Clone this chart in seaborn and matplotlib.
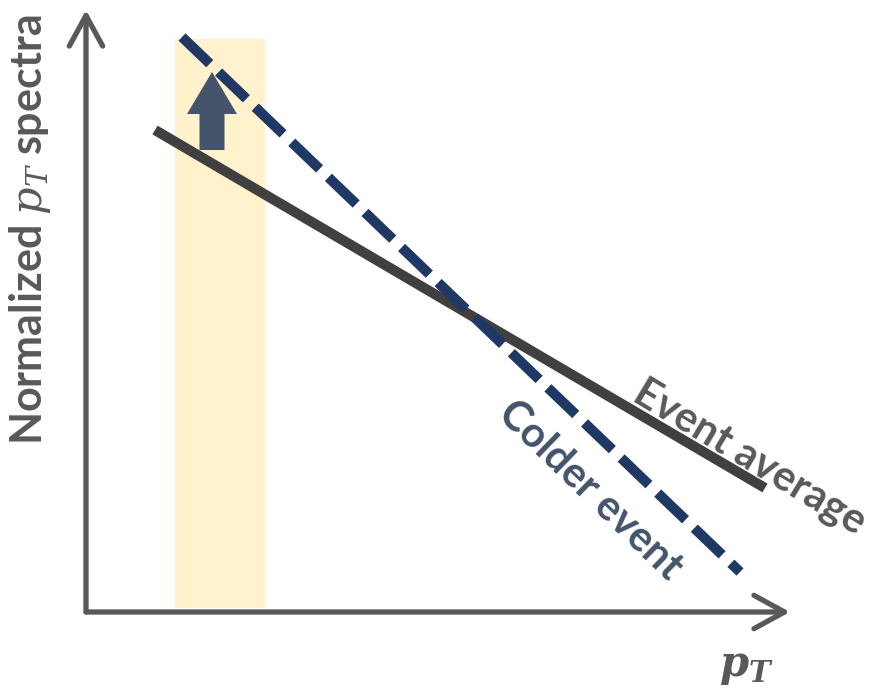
import matplotlib
matplotlib.use("Agg")
import matplotlib.pyplot as plt
import seaborn as sns
import pandas as pd

sns.set_theme(style="white")
plt.rcParams['font.family'] = ['Lato', 'DejaVu Sans']
plt.rcParams['mathtext.fontset'] = 'custom'
plt.rcParams['mathtext.it'] = 'DejaVu Serif:italic'
plt.rcParams['mathtext.bf'] = 'DejaVu Serif:italic:bold'
plt.rcParams['mathtext.rm'] = 'DejaVu Serif'

# Schematic coordinates (canvas units, y grows downward)
event_avg_x = [155, 765]
event_avg_y = [130, 488]
colder_x = [182, 740]
colder_y = [37, 572]
band_x = [175, 265]
band_y = [39, 608]
origin = (86, 612)
x_axis_end = (790, 612)
y_axis_end = (86, 10)
shift_arrow_x = 212
shift_arrow_y = [150, 72]

labels = {
    "ylabel": r"Normalized $\mathit{p_T}$ spectra",
    "xlabel": r"$\mathbf{p}_\mathbf{T}$",
    "avg": "Event average",
    "cold": "Colder event",
}

GREY = "#595959"

fig = plt.figure(figsize=(8.79, 6.92), dpi=100)
ax = fig.add_axes([0, 0, 1, 1])

# highlighted band
ax.fill_between(band_x, band_y[0], band_y[1], color="#FFF2CC", lw=0, zorder=0)

df_avg = pd.DataFrame({"x": event_avg_x, "y": event_avg_y})
df_cold = pd.DataFrame({"x": colder_x, "y": colder_y})
sns.lineplot(data=df_avg, x="x", y="y", ax=ax, color="#404040", lw=7.3,
             solid_capstyle="butt", sort=False, zorder=4)
sns.lineplot(data=df_cold, x="x", y="y", ax=ax, color="#1F3864", lw=7.3,
             linestyle=(0, (3.8, 1.2)), dash_capstyle="butt", sort=False, zorder=5)
ax.set_xlim(0, 879)
ax.set_ylim(692, 0)
ax.axis("off")

# axes arrows
for end in (x_axis_end, y_axis_end):
    ax.annotate("", xy=end, xytext=origin,
                arrowprops=dict(arrowstyle="->,head_length=1.1,head_width=0.6",
                                lw=3.8, color=GREY, shrinkA=0, shrinkB=0,
                                mutation_scale=20, capstyle="round",
                                joinstyle="round"), zorder=3)

# block arrow
ax.arrow(shift_arrow_x, shift_arrow_y[0], 0, shift_arrow_y[1] - shift_arrow_y[0],
         width=25, head_width=50, head_length=42, length_includes_head=True,
         color="#44546A", lw=0, zorder=6)

ax.text(30, 230, labels["ylabel"], rotation=90, ha="center", va="center",
        fontsize=31, fontweight="bold", color=GREY)
ax.text(746, 668, labels["xlabel"], ha="center", va="center",
        fontsize=30, color=GREY)
ax.text(750, 457, labels["avg"], rotation=-31, rotation_mode="anchor",
        ha="center", va="center", fontsize=30, fontweight="bold", color=GREY)
ax.text(590, 490, labels["cold"], rotation=-44, rotation_mode="anchor",
        ha="center", va="center", fontsize=30, fontweight="bold", color="#44546A")

fig.savefig("out.png", dpi=100)
